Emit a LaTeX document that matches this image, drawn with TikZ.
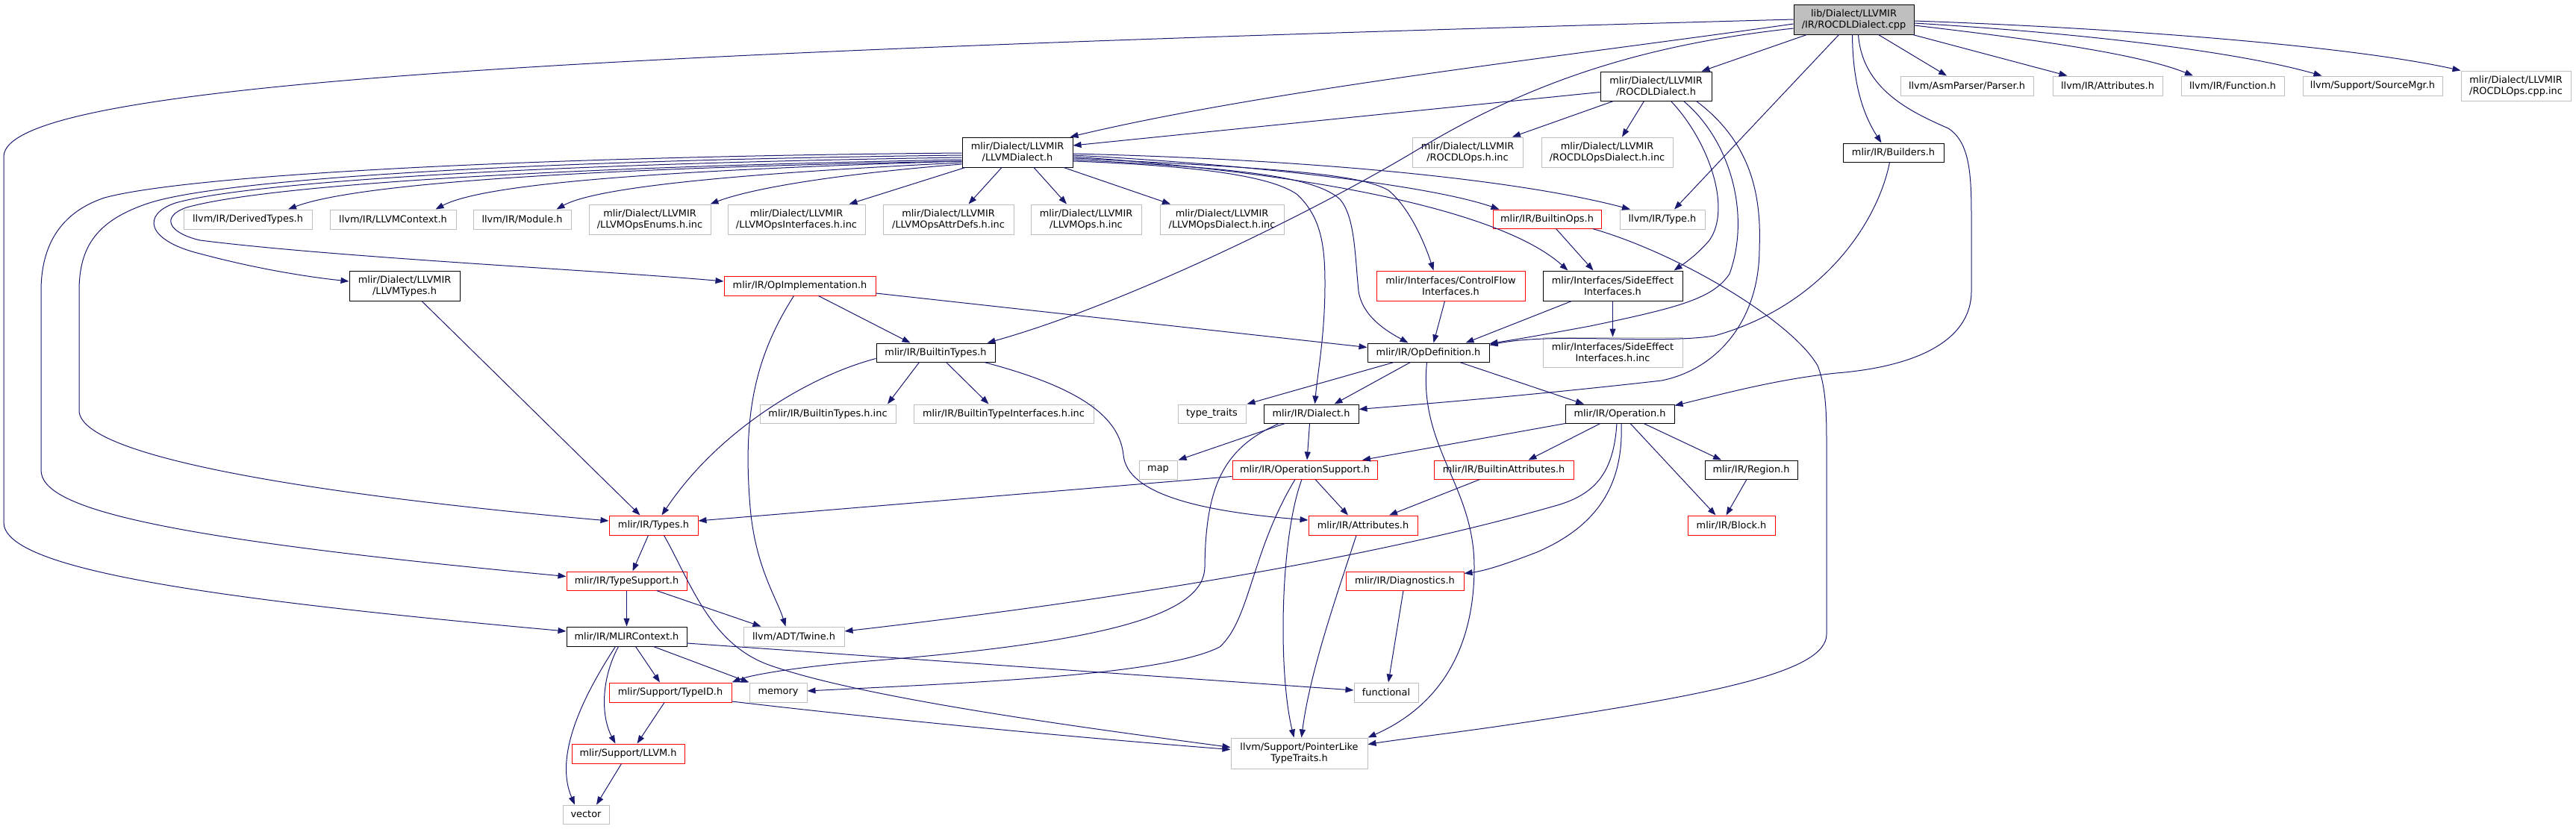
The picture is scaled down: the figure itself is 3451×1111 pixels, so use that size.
\documentclass[tikz,border=0pt]{standalone}
\usepackage{fontspec}
\newfontfamily\dvs{DejaVu Sans}
\usetikzlibrary{arrows.meta}
\definecolor{edgeblue}{HTML}{191970}
\definecolor{nodegrey}{HTML}{BFBFBF}
\definecolor{nodered}{HTML}{FF0000}
\begin{document}
\begin{tikzpicture}[x=1pt,y=-1pt,
  base/.style={draw, rectangle, inner sep=0pt, align=center, line width=1pt, fill=white,
               font={\dvs\fontsize{12.9pt}{15pt}\selectfont}},
  blk/.style={base, draw=black},
  gry/.style={base, draw=nodegrey},
  trunc/.style={base, draw=nodered},
  topnode/.style={base, draw=black, fill=nodegrey},
  dep/.style={draw=edgeblue, line width=1pt, -{Triangle[length=11pt,width=8pt]}}]
\useasboundingbox (0,0) rectangle (3451,1111);

% ---------- nodes ----------
\node[topnode, minimum width=161pt, minimum height=40pt] (cpp) at (2483.5,26) {lib/Dialect/LLVMIR\\/IR/ROCDLDialect.cpp};
\node[blk, minimum width=149pt, minimum height=39pt] (rocdlh) at (2218.5,115.5) {mlir/Dialect/LLVMIR\\/ROCDLDialect.h};
\node[gry, minimum width=178pt, minimum height=26pt] (asm) at (2635,115) {llvm/AsmParser/Parser.h};
\node[gry, minimum width=147pt, minimum height=26pt] (llattr) at (2823.5,115) {llvm/IR/Attributes.h};
\node[gry, minimum width=138pt, minimum height=26pt] (func) at (2991,115) {llvm/IR/Function.h};
\node[gry, minimum width=187pt, minimum height=26pt] (srcmgr) at (3178.5,115) {llvm/Support/SourceMgr.h};
\node[gry, minimum width=147pt, minimum height=40pt] (opscpp) at (3370.5,115) {mlir/Dialect/LLVMIR\\/ROCDLOps.cpp.inc};
\node[blk, minimum width=148pt, minimum height=40pt] (llvmdialect) at (1363,204) {mlir/Dialect/LLVMIR\\/LLVMDialect.h};
\node[gry, minimum width=148pt, minimum height=40pt] (rocdlops) at (1966,204) {mlir/Dialect/LLVMIR\\/ROCDLOps.h.inc};
\node[gry, minimum width=176pt, minimum height=40pt] (rocdlopsdialect) at (2153,204) {mlir/Dialect/LLVMIR\\/ROCDLOpsDialect.h.inc};
\node[blk, minimum width=135pt, minimum height=25pt] (builders) at (2536.5,204.5) {mlir/IR/Builders.h};
\node[gry, minimum width=172pt, minimum height=26pt] (derived) at (332,294) {llvm/IR/DerivedTypes.h};
\node[gry, minimum width=169pt, minimum height=26pt] (llvmctx) at (526.5,294) {llvm/IR/LLVMContext.h};
\node[gry, minimum width=131pt, minimum height=26pt] (module) at (699.5,294) {llvm/IR/Module.h};
\node[gry, minimum width=163pt, minimum height=40pt] (enums) at (870.5,294) {mlir/Dialect/LLVMIR\\/LLVMOpsEnums.h.inc};
\node[gry, minimum width=184pt, minimum height=40pt] (ifaces) at (1067,294) {mlir/Dialect/LLVMIR\\/LLVMOpsInterfaces.h.inc};
\node[gry, minimum width=175pt, minimum height=40pt] (attrdefs) at (1270.5,294) {mlir/Dialect/LLVMIR\\/LLVMOpsAttrDefs.h.inc};
\node[gry, minimum width=148pt, minimum height=40pt] (opsinc) at (1455,294) {mlir/Dialect/LLVMIR\\/LLVMOps.h.inc};
\node[gry, minimum width=166pt, minimum height=40pt] (opsdialect) at (1637,294) {mlir/Dialect/LLVMIR\\/LLVMOpsDialect.h.inc};
\node[trunc, minimum width=145pt, minimum height=25pt] (builtinops) at (2072.5,293.5) {mlir/IR/BuiltinOps.h};
\node[gry, minimum width=114pt, minimum height=26pt] (type) at (2227,294) {llvm/IR/Type.h};
\node[blk, minimum width=148pt, minimum height=40pt] (llvmtypes) at (542,383) {mlir/Dialect/LLVMIR\\/LLVMTypes.h};
\node[trunc, minimum width=203pt, minimum height=26pt] (opimpl) at (1071.5,383) {mlir/IR/OpImplementation.h};
\node[trunc, minimum width=199pt, minimum height=40pt] (cf) at (1943.5,383) {mlir/Interfaces/ControlFlow\\Interfaces.h};
\node[blk, minimum width=187pt, minimum height=40pt] (se) at (2160.5,383) {mlir/Interfaces/SideEffect\\Interfaces.h};
\node[blk, minimum width=159pt, minimum height=25pt] (builtintypes) at (1253.5,472.5) {mlir/IR/BuiltinTypes.h};
\node[blk, minimum width=163pt, minimum height=25pt] (opdef) at (1913.5,472.5) {mlir/IR/OpDefinition.h};
\node[gry, minimum width=187pt, minimum height=40pt] (seinc) at (2160.5,472) {mlir/Interfaces/SideEffect\\Interfaces.h.inc};
\node[gry, minimum width=182pt, minimum height=25pt] (btinc) at (1109,554.5) {mlir/IR/BuiltinTypes.h.inc};
\node[gry, minimum width=241pt, minimum height=25pt] (btiinc) at (1344.5,554.5) {mlir/IR/BuiltinTypeInterfaces.h.inc};
\node[gry, minimum width=91pt, minimum height=25pt] (typetraits) at (1623.5,554.5) {type\_traits};
\node[blk, minimum width=127pt, minimum height=25pt] (dialect) at (1756.5,554.5) {mlir/IR/Dialect.h};
\node[blk, minimum width=146pt, minimum height=25pt] (operation) at (2170,554.5) {mlir/IR/Operation.h};
\node[gry, minimum width=51pt, minimum height=25pt] (map) at (1551.5,629.5) {map};
\node[trunc, minimum width=194pt, minimum height=25pt] (opsupport) at (1748,629.5) {mlir/IR/OperationSupport.h};
\node[trunc, minimum width=187pt, minimum height=25pt] (battrs) at (2014.5,629.5) {mlir/IR/BuiltinAttributes.h};
\node[blk, minimum width=124pt, minimum height=25pt] (region) at (2346,629.5) {mlir/IR/Region.h};
\node[trunc, minimum width=119pt, minimum height=26pt] (types) at (875.5,704) {mlir/IR/Types.h};
\node[trunc, minimum width=146pt, minimum height=26pt] (attrs) at (1826,704) {mlir/IR/Attributes.h};
\node[trunc, minimum width=117pt, minimum height=26pt] (block) at (2319.5,704) {mlir/IR/Block.h};
\node[trunc, minimum width=161pt, minimum height=25pt] (typesupport) at (839.5,778.5) {mlir/IR/TypeSupport.h};
\node[trunc, minimum width=158pt, minimum height=25pt] (diag) at (1882,778.5) {mlir/IR/Diagnostics.h};
\node[blk, minimum width=161pt, minimum height=26pt] (mlirctx) at (839.5,853) {mlir/IR/MLIRContext.h};
\node[gry, minimum width=135pt, minimum height=26pt] (twine) at (1063.5,853) {llvm/ADT/Twine.h};
\node[trunc, minimum width=164pt, minimum height=26pt] (typeid) at (898,928) {mlir/Support/TypeID.h};
\node[gry, minimum width=77pt, minimum height=26pt] (memory) at (1042.5,928) {memory};
\node[gry, minimum width=86pt, minimum height=26pt] (functional) at (1857,928) {functional};
\node[trunc, minimum width=151pt, minimum height=26pt] (llvmh) at (841.5,1010) {mlir/Support/LLVM.h};
\node[gry, minimum width=183pt, minimum height=41pt] (ptrlike) at (1740.5,1009.5) {llvm/Support/PointerLike\\TypeTraits.h};
\node[gry, minimum width=62pt, minimum height=25pt] (vector) at (785,1091.5) {vector};

% ---------- edges from the .cpp ----------
\draw[dep] (cpp.west) .. controls (800,70) and (5,110) .. (5,210) -- (5,700) .. controls (5,760) and (250,800) .. ([yshift=7pt]mlirctx.west);
\draw[dep] ([yshift=-6pt]cpp.west) .. controls (2100,75) and (1700,120) .. ([xshift=-4pt]llvmdialect.north east);
\draw[dep] ([yshift=-12pt]cpp.west) .. controls (2200,60) and (2050,110) .. (1900,200) .. controls (1750,290) and (1500,410) .. ([xshift=-11pt]builtintypes.north east);
\draw[dep] ([xshift=18pt]cpp.south west) -- ([xshift=-14pt]rocdlh.north east);
\draw[dep] ([xshift=-20pt]cpp.south) -- ([xshift=16pt]type.north);
\draw[dep] ([xshift=-2pt]cpp.south) .. controls (2482,120) and (2500,160) .. ([xshift=-16pt]builders.north);
\draw[dep] ([xshift=6pt]cpp.south) .. controls (2495,120) and (2560,150) .. (2610,172) .. controls (2641,192) and (2641,240) .. (2641,300) -- (2641,390) .. controls (2641,460) and (2560,492) .. (2460,500) .. controls (2380,508) and (2300,530) .. ([yshift=11pt]operation.east);
\draw[dep] ([xshift=33pt]cpp.south) -- ([xshift=-27pt]asm.north);
\draw[dep] ([xshift=-2pt]cpp.south east) -- ([xshift=-54pt]llattr.north);
\draw[dep] ([yshift=-8pt]cpp.east) .. controls (2700,50) and (2860,70) .. ([xshift=-53pt]func.north);
\draw[dep] ([yshift=-5pt]cpp.east) .. controls (2800,45) and (3000,70) .. ([xshift=-68pt]srcmgr.north);
\draw[dep] ([yshift=-2pt]cpp.east) .. controls (2850,38) and (3150,62) .. (opscpp.north west);

% ---------- ROCDLDialect.h ----------
\draw[dep] ([yshift=-8pt]rocdlh.west) -- ([yshift=9pt]llvmdialect.east);
\draw[dep] ([xshift=-57pt]rocdlh.south) -- ([xshift=60pt]rocdlops.north);
\draw[dep] ([xshift=-16pt]rocdlh.south) -- ([xshift=20pt]rocdlopsdialect.north);
\draw[dep] ([xshift=20pt]rocdlh.south) .. controls (2290,190) and (2320,280) .. (2290,322) .. controls (2275,340) and (2258,352) .. ([xshift=82pt]se.north);
\draw[dep] ([xshift=37pt]rocdlh.south) .. controls (2320,190) and (2345,290) .. (2317,367) .. controls (2295,400) and (2250,412) .. (2130,437) .. controls (2060,450) and (2030,455) .. ([yshift=-1pt]opdef.north east);
\draw[dep] ([xshift=54pt]rocdlh.south) .. controls (2345,190) and (2360,260) .. (2357,333) .. controls (2357,430) and (2300,495) .. (2226,510) .. controls (2050,530) and (1900,542) .. ([yshift=6pt]dialect.east);

% ---------- Builders.h ----------
\draw[dep] ([xshift=-5pt]builders.south) .. controls (2515,300) and (2440,410) .. (2297,450) .. controls (2220,462) and (2080,445) .. ([yshift=-3pt]opdef.north east);

% ---------- LLVMDialect.h, left ----------
\draw[dep] ([yshift=-1pt]llvmdialect.west) .. controls (700,210) and (250,235) .. (140,265) .. controls (80,285) and (55,330) .. (55,390) -- (55,630) .. controls (55,680) and (200,720) .. ([yshift=6pt]typesupport.west);
\draw[dep] ([yshift=-4pt]llvmdialect.west) .. controls (700,215) and (300,240) .. (200,272) .. controls (130,295) and (106,330) .. (106,390) -- (106,550) .. controls (106,620) and (500,670) .. ([yshift=6pt]types.west);
\draw[dep] ([yshift=-7pt]llvmdialect.west) .. controls (700,220) and (330,245) .. (235,272) .. controls (190,287) and (195,322) .. (268,340) .. controls (350,362) and (420,372) .. ([yshift=6pt]llvmtypes.west);
\draw[dep] ([yshift=-10pt]llvmdialect.west) .. controls (700,225) and (350,250) .. (250,278) .. controls (215,290) and (225,312) .. (268,322) .. controls (450,345) and (800,362) .. ([yshift=6pt]opimpl.west);
\draw[dep] ([yshift=-12pt]llvmdialect.west) .. controls (800,225) and (480,245) .. ([xshift=54pt]derived.north);
\draw[dep] ([yshift=-12pt]llvmdialect.west) .. controls (900,228) and (650,245) .. ([xshift=57pt]llvmctx.north);
\draw[dep] ([yshift=-14pt]llvmdialect.west) .. controls (1000,232) and (800,250) .. ([xshift=46pt]module.north);
\draw[dep] ([yshift=-16pt]llvmdialect.west) .. controls (1100,235) and (1000,255) .. ([xshift=-1pt]enums.north east);
\draw[dep] ([xshift=-70pt]llvmdialect.south) -- ([xshift=-22pt]ifaces.north east);
\draw[dep] ([xshift=-21pt]llvmdialect.south) -- ([xshift=27pt]attrdefs.north);
\draw[dep] ([xshift=22pt]llvmdialect.south) -- ([xshift=-26pt]opsinc.north);
\draw[dep] ([xshift=62pt]llvmdialect.south) -- ([xshift=-69pt]opsdialect.north);

% ---------- LLVMDialect.h, right ----------
\draw[dep] ([yshift=-2pt]llvmdialect.east) .. controls (1800,215) and (2050,245) .. ([xshift=-43pt]type.north);
\draw[dep] ([yshift=-4pt]llvmdialect.east) .. controls (1700,222) and (1920,250) .. ([xshift=-64pt]builtinops.north);
\draw[dep] ([yshift=-6pt]llvmdialect.east) .. controls (1800,235) and (2020,290) .. ([xshift=-60pt]se.north);
\draw[dep] ([yshift=-8pt]llvmdialect.east) .. controls (1700,225) and (1820,232) .. (1860,255) .. controls (1890,280) and (1910,330) .. ([xshift=-23pt]cf.north);
\draw[dep] ([yshift=-10pt]llvmdialect.east) .. controls (1650,225) and (1760,235) .. (1795,267) .. controls (1815,290) and (1815,340) .. (1820,390) .. controls (1825,425) and (1860,445) .. ([xshift=-27pt]opdef.north);
\draw[dep] ([yshift=-12pt]llvmdialect.east) .. controls (1600,222) and (1700,235) .. (1737,260) .. controls (1770,290) and (1775,330) .. (1775,380) .. controls (1775,450) and (1765,500) .. ([xshift=5pt]dialect.north);

% ---------- middle ----------
\draw[dep] ([xshift=12pt]builtinops.south) -- ([xshift=-26pt]se.north);
\draw[dep] ([xshift=-12pt]builtinops.south east) .. controls (2250,340) and (2400,430) .. (2435,490) .. controls (2447,520) and (2447,560) .. (2447,600) -- (2447,850) .. controls (2447,900) and (2300,930) .. (2030,970) .. controls (1950,982) and (1880,990) .. ([yshift=12pt]ptrlike.east);
\draw[dep] ([xshift=23pt]llvmtypes.south) -- ([xshift=-18pt]types.north);
\draw[dep] ([xshift=25pt]opimpl.south) -- ([xshift=-34pt]builtintypes.north);
\draw[dep] ([yshift=-10pt]opimpl.east) -- ([yshift=7pt]opdef.west);
\draw[dep] ([xshift=-8pt]opimpl.south) .. controls (1010,480) and (995,560) .. (1005,680) .. controls (1012,760) and (1040,800) .. ([xshift=-11pt]twine.north);
\draw[dep] ([xshift=-8pt]cf.south) -- ([xshift=7pt]opdef.north);
\draw[dep] ([xshift=-55pt]se.south) -- ([xshift=50pt]opdef.north);
\draw[dep] (se.south) -- (seinc.north);
\draw[dep] ([xshift=-22pt]builtintypes.south) -- ([xshift=80pt]btinc.north);
\draw[dep] ([xshift=14pt]builtintypes.south) -- ([xshift=-20pt]btiinc.north);
\draw[dep] ([yshift=-8pt]builtintypes.west) .. controls (1080,505) and (960,580) .. ([xshift=11pt]types.north);
\draw[dep] ([xshift=65pt]builtintypes.south) .. controls (1450,520) and (1500,560) .. (1505,610) .. controls (1510,660) and (1600,685) .. ([yshift=7pt]attrs.west);
\draw[dep] ([xshift=-46pt]opdef.south) -- ([xshift=47pt]typetraits.north);
\draw[dep] ([xshift=-24pt]opdef.south) -- ([xshift=31pt]dialect.north);
\draw[dep] ([xshift=42pt]opdef.south) -- ([xshift=-48pt]operation.north);
\draw[dep] ([xshift=-2pt]opdef.south) .. controls (1900,600) and (1975,650) .. (1975,760) .. controls (1975,880) and (1920,950) .. (ptrlike.north east);
\draw[dep] ([xshift=-35pt]dialect.south) -- ([xshift=27pt]map.north);
\draw[dep] ([xshift=-2pt]dialect.south) -- ([xshift=3pt]opsupport.north);
\draw[dep] ([xshift=-43pt]dialect.south) .. controls (1640,600) and (1615,650) .. (1614,760) .. controls (1613,820) and (1500,860) .. (1150,887) .. controls (1080,893) and (1010,903) .. (typeid.north east);
\draw[dep] ([xshift=-73pt]operation.south) -- ([xshift=77pt]opsupport.north);
\draw[dep] ([xshift=-26pt]operation.south) -- ([xshift=33pt]battrs.north);
\draw[dep] ([xshift=32pt]operation.south) -- ([xshift=-40pt]region.north);
\draw[dep] ([xshift=14pt]operation.south) -- ([xshift=-21pt]block.north);
\draw[dep] ([xshift=2pt]operation.south) .. controls (2175,650) and (2140,705) .. (2059,740) .. controls (2020,755) and (1990,765) .. ([yshift=10pt]diag.east);
\draw[dep] ([xshift=-4pt]operation.south) .. controls (2162,630) and (2140,660) .. (2090,676) .. controls (1800,760) and (1400,815) .. ([yshift=7pt]twine.east);
\draw[dep] ([xshift=-6pt]region.south) -- ([xshift=-7pt]block.north);
\draw[dep] ([xshift=-32pt]battrs.south) -- ([xshift=35pt]attrs.north);
\draw[dep] ([xshift=14pt]opsupport.south) -- ([xshift=-20pt]attrs.north);
\draw[dep] ([yshift=-9pt]opsupport.west) -- ([yshift=6pt]types.east);
\draw[dep] ([xshift=-4pt]opsupport.south) .. controls (1715,720) and (1712,900) .. ([xshift=-7pt]ptrlike.north);
\draw[dep] ([xshift=-13pt]opsupport.south) .. controls (1676,740) and (1675,830) .. (1634,867) .. controls (1560,905) and (1300,915) .. ([yshift=2pt]memory.east);
\draw[dep] ([xshift=-9pt]attrs.south) .. controls (1790,800) and (1755,900) .. ([xshift=3pt]ptrlike.north);

% ---------- lower ----------
\draw[dep] ([xshift=-7pt]types.south) -- ([xshift=8pt]typesupport.north);
\draw[dep] ([xshift=14pt]types.south) .. controls (925,780) and (950,860) .. (1027,890) .. controls (1150,935) and (1450,975) .. ([yshift=8pt]ptrlike.west);
\draw[dep] (typesupport.south) -- (mlirctx.north);
\draw[dep] ([xshift=40pt]typesupport.south) -- ([xshift=-44pt]twine.north);
\draw[dep] ([yshift=-9pt]mlirctx.east) -- ([yshift=3pt]functional.west);
\draw[dep] ([xshift=12pt]mlirctx.south) -- ([xshift=-14pt]typeid.north);
\draw[dep] ([xshift=36pt]mlirctx.south) -- (memory.north west);
\draw[dep] ([xshift=-11pt]mlirctx.south) .. controls (805,910) and (805,960) .. ([xshift=-17pt]llvmh.north);
\draw[dep] ([xshift=-15pt]mlirctx.south) .. controls (770,950) and (745,1020) .. ([xshift=-15pt]vector.north);
\draw[dep] ([xshift=-8pt]typeid.south) -- ([xshift=12pt]llvmh.north);
\draw[dep] ([yshift=-12pt]typeid.east) .. controls (1150,960) and (1400,985) .. ([yshift=5pt]ptrlike.west);
\draw[dep] ([xshift=-9pt]llvmh.south) -- ([xshift=14pt]vector.north);
\draw[dep] ([xshift=-2pt]diag.south) -- ([xshift=3pt]functional.north);
\end{tikzpicture}
\end{document}
